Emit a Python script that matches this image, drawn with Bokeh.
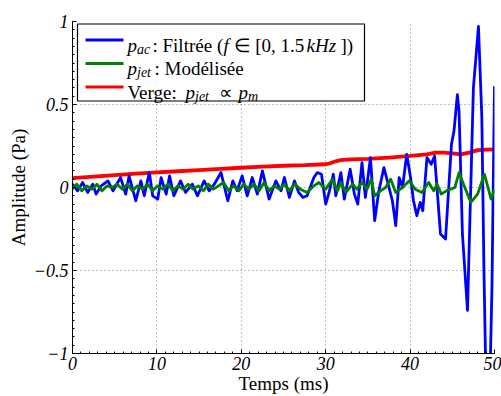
from bokeh.plotting import figure
from bokeh.models import Range1d, FixedTicker, BoxAnnotation, Label
from bokeh.embed import file_html
from bokeh.resources import INLINE

# ---------------- data ----------------
t_ac = [0.0, 0.6, 1.2, 1.8, 2.4, 2.8, 3.4, 4.2, 4.8, 5.7, 6.3, 6.7, 7.5, 8.1, 8.5, 9.1, 9.5,
        10.1, 10.5, 11.1, 11.5, 12.0, 12.8, 13.4, 14.2, 14.8, 15.6, 16.2, 16.8, 17.6, 18.4,
        19.0, 19.5, 20.1, 20.7, 21.3, 21.9, 22.5, 23.3, 24.1, 24.7, 25.1, 25.7, 26.3, 26.8,
        27.3, 27.8, 28.6, 29.0, 29.5, 30.0, 30.4, 30.9, 31.2, 31.8, 32.2, 32.9, 33.4, 33.8,
        34.3, 34.7, 35.3, 35.8, 36.3, 36.9, 37.5, 37.9, 38.3, 38.7, 39.1, 39.6, 40.05, 40.4,
        40.8, 41.2, 41.5, 42.0, 42.5, 42.9, 43.6, 44.2, 44.9, 45.2, 45.6, 45.8, 46.2, 46.8,
        47.5, 48.1, 48.5, 48.75, 49.0, 49.4, 49.7, 50.0]
p_ac = [0.02, -0.02, 0.03, -0.03, 0.02, -0.04, 0.01, 0.04, -0.02, 0.06, -0.04, 0.07, -0.08,
        0.04, -0.05, 0.09, -0.05, -0.07, 0.06, -0.04, 0.07, -0.05, 0.04, -0.03, 0.02, -0.05,
        0.04, -0.02, 0.02, 0.09, -0.08, 0.04, -0.02, 0.07, -0.05, 0.06, -0.04, 0.10, -0.07,
        0.04, -0.02, 0.06, -0.06, 0.04, -0.03, -0.06, -0.05, 0.06, 0.09, 0.08, -0.10, -0.03,
        0.08, -0.05, 0.09, -0.07, 0.11, -0.04, -0.10, 0.15, -0.06, 0.18, -0.20, -0.02, 0.12,
        0.0, -0.08, -0.23, 0.06, 0.0, 0.20, 0.06, -0.08, -0.17, -0.09, -0.14, 0.18, 0.14,
        0.19, -0.28, -0.31, 0.26, 0.34, 0.56, 0.46, -0.28, -0.74, 0.60, 0.97, 0.42, -0.5,
        -1.2, -1.3, -0.6, 0.61]

t_jet = [0.0, 0.5, 1.1, 1.7, 2.3, 2.9, 3.5, 4.1, 4.7, 5.3, 5.9, 6.5, 7.1, 7.7, 8.3, 8.9, 9.5,
         10.1, 10.7, 11.3, 11.9, 12.5, 13.1, 13.7, 14.3, 14.9, 15.5, 16.1, 16.7, 17.3, 17.9,
         18.5, 19.1, 19.7, 20.3, 20.9, 21.5, 22.1, 22.7, 23.3, 23.9, 24.5, 25.1, 25.7, 26.3,
         27.0, 27.8, 28.6, 29.2, 30.0, 30.8, 31.4, 31.8, 32.4, 33.2, 33.7, 34.3, 34.9, 35.4,
         35.8, 36.5, 37.1, 37.7, 38.3, 39.1, 39.9, 40.6, 41.4, 42.2, 42.8, 43.2, 43.7, 44.3,
         44.8, 45.3, 45.8, 46.4, 47.2, 48.0, 48.8, 49.6, 50.0]
p_jet = [-0.01, 0.02, -0.02, 0.01, -0.01, 0.02, -0.02, 0.01, 0.0, 0.02, -0.01, 0.02, -0.02,
         0.01, -0.01, 0.02, -0.02, 0.01, -0.01, 0.02, -0.02, 0.01, -0.01, 0.02, -0.01, 0.01,
         -0.02, 0.02, -0.01, 0.01, 0.03, -0.02, 0.01, -0.02, 0.02, -0.01, 0.02, -0.02, 0.03,
         -0.02, 0.01, -0.01, 0.02, -0.02, 0.02, -0.01, -0.03, 0.01, 0.03, -0.01, 0.05, -0.02,
         0.03, -0.03, 0.02, -0.01, 0.03, -0.01, 0.05, -0.05, -0.02, 0.0, 0.05, -0.03, 0.0,
         0.04, -0.01, -0.03, 0.03, -0.02, 0.02, -0.04, -0.02, -0.01, 0.0, 0.09, 0.01, -0.09,
         -0.04, 0.08, -0.07, -0.01]

t_verge = [0.0, 2.5, 5.0, 7.5, 10.0, 12.5, 15.0, 17.5, 20.0, 22.5, 25.0, 27.5, 30.0, 30.5,
           31.0, 31.5, 32.0, 33.0, 35.0, 37.5, 40.0, 42.0, 43.0, 44.0, 45.0, 46.0, 47.0, 48.0,
           49.0, 50.0]
p_verge = [0.056, 0.065, 0.074, 0.083, 0.091, 0.098, 0.105, 0.112, 0.119, 0.126, 0.131,
           0.135, 0.140, 0.146, 0.155, 0.162, 0.167, 0.170, 0.172, 0.180, 0.190, 0.200,
           0.210, 0.210, 0.205, 0.200, 0.210, 0.225, 0.228, 0.230]

x_ticks = [0, 10, 20, 30, 40, 50]
x_tick_labels = ["0", "10", "20", "30", "40", "50"]
y_ticks = [-1, -0.5, 0, 0.5, 1]
y_tick_labels = ["\u22121", "\u22120.5", "0", "0.5", "1"]

# ---------------- figure ----------------
W, H = 501, 396
BL, BT, BR, BB = 72, 21, 7, 43
SERIF = "Liberation Serif"

p = figure(width=W, height=H, output_backend="svg", toolbar_location=None,
           x_range=Range1d(0, 50), y_range=Range1d(-1, 1),
           min_border_left=BL, min_border_top=BT, min_border_right=BR, min_border_bottom=BB)
p.outline_line_color = None
p.background_fill_color = "white"
p.border_fill_color = "white"

p.xaxis.ticker = FixedTicker(ticks=x_ticks, minor_ticks=[i for i in range(0, 51)])
p.yaxis.ticker = FixedTicker(ticks=y_ticks, minor_ticks=[round(-1 + 0.05 * i, 2) for i in range(41)])
p.xaxis.major_label_overrides = {v: s for v, s in zip(x_ticks, x_tick_labels)}
p.yaxis.major_label_overrides = {v: s for v, s in zip(y_ticks, y_tick_labels)}

for ax in (p.xaxis, p.yaxis):
    ax.axis_line_color = "black"
    ax.axis_line_width = 1
    ax.major_tick_in = 4
    ax.major_tick_out = 0
    ax.minor_tick_in = 2
    ax.minor_tick_out = 0
    ax.major_tick_line_color = "black"
    ax.minor_tick_line_color = "black"
    ax.major_label_text_font = SERIF
    ax.major_label_text_font_style = "italic"
    ax.major_label_text_font_size = "18px"
    ax.major_label_text_color = "black"
    ax.major_label_standoff = 4
    ax.axis_label_text_font = SERIF
    ax.axis_label_text_font_style = "normal"
    ax.axis_label_text_font_size = "19px"
    ax.axis_label_text_color = "black"
    ax.axis_label_standoff = 2

p.xaxis.major_label_standoff = 3
p.xaxis.axis_label_standoff = 0

p.xaxis.axis_label = "Temps (ms)"
p.yaxis.axis_label = "Amplitude (Pa)"

for g in (p.xgrid, p.ygrid):
    g.grid_line_color = "black"
    g.grid_line_alpha = 0.5
    g.grid_line_dash = "1 3"
    g.grid_line_width = 1

# data lines
p.line(t_verge, p_verge, line_color="#ff0000", line_width=3.8)
p.line(t_ac, p_ac, line_color="#0000ff", line_width=2.8, line_join="round")
p.line(t_jet, p_jet, line_color="#008000", line_width=2.8, line_join="round")

# ---------------- custom legend (page pixel layout -> data coordinates) ----------------
def dx(px):
    return (px - 72) / 422 * 50

def dy(py):
    return 1 - (py - 21) / 332 * 2

box = BoxAnnotation(left=dx(77), right=dx(364), top=dy(23.5), bottom=dy(100.5),
                    fill_color="white", fill_alpha=1.0, line_color="black", line_width=1.2,
                    line_alpha=1.0)
p.add_layout(box)

leg_colors = ["#0000ff", "#008000", "#ff0000"]
leg_base = [44.5, 68.0, 91.5]
p.segment(x0=[dx(85)] * 3, x1=[dx(123)] * 3,
          y0=[dy(b - 5) for b in leg_base], y1=[dy(b - 5) for b in leg_base],
          line_color=leg_colors, line_width=3, level="overlay")

pieces = [
    (127, 44.5, "p", "italic", 19), (136.5, 48.5, "ac", "italic", 14),
    (152, 44.5, ": Filtrée (", "normal", 19), (223, 44.5, "f", "italic", 19),
    (233, 44.5, "\u2208 [0, 1.5", "normal", 19), (306, 44.5, "kHz", "italic", 19),
    (340, 44.5, "])", "normal", 19),
    (127, 68.0, "p", "italic", 19), (136.5, 72.0, "jet", "italic", 14),
    (154, 68.0, ": Modélisée", "normal", 19),
    (127, 91.5, "Verge:", "normal", 19), (185, 91.5, "p", "italic", 19),
    (194.5, 95.5, "jet", "italic", 14), (218, 91.5, "\u221d", "normal", 19),
    (238, 91.5, "p", "italic", 19), (247.5, 95.5, "m", "italic", 14),
]
for px, py, txt, style, size in pieces:
    p.add_layout(Label(x=dx(px), y=dy(py), text=txt, text_font=SERIF,
                       text_font_style=style, text_font_size=f"{size}px",
                       text_baseline="alphabetic", text_align="left", text_color="black"))

open("out.html", "w").write(file_html(p, INLINE))
